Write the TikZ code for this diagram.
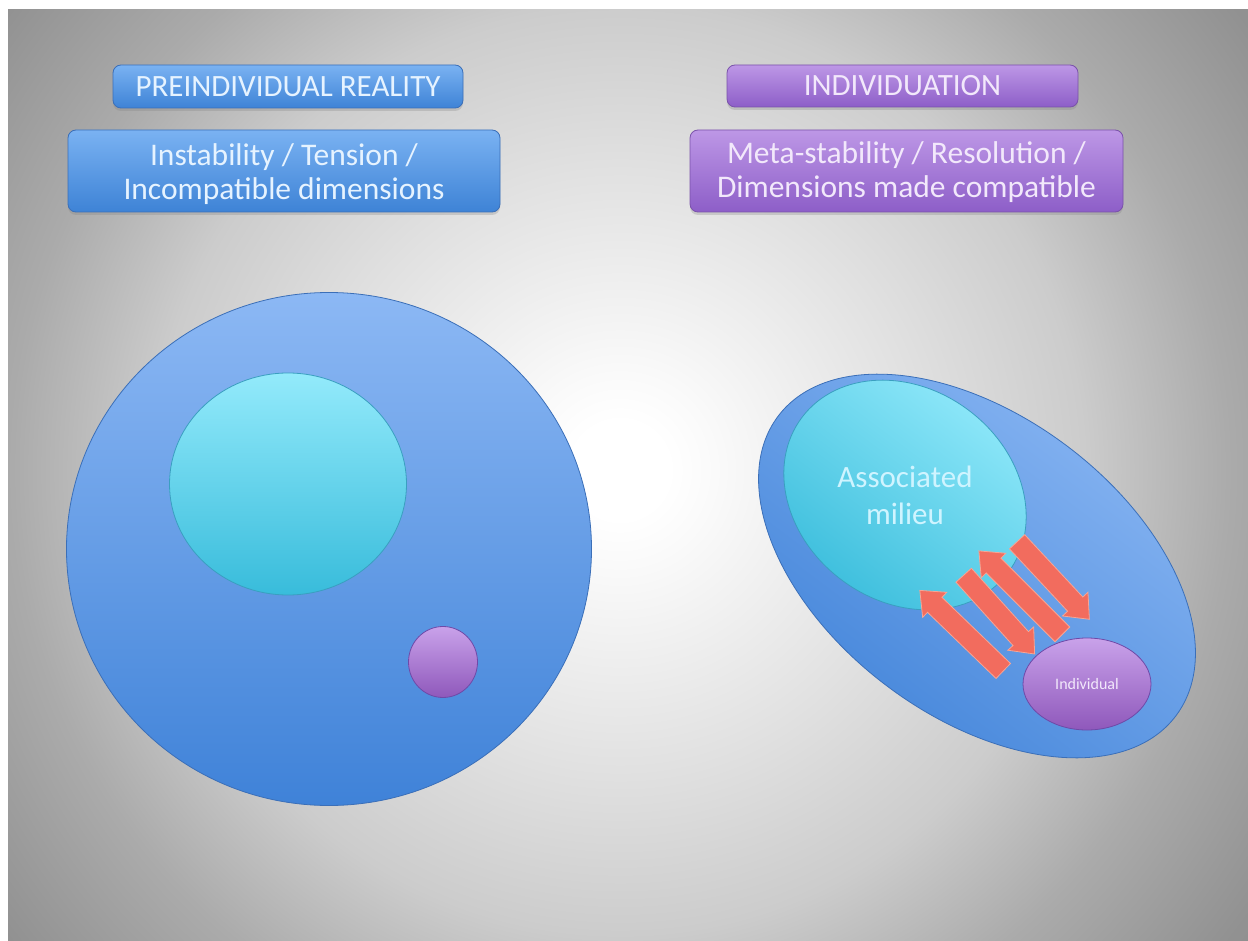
\documentclass[tikz,border=0pt]{standalone}
\usepackage{fontspec}
\setmainfont{Carlito}
\usetikzlibrary{shapes.geometric,shapes.arrows,shadows}
\definecolor{bluetop}{HTML}{7AB2F2}
\definecolor{bluebot}{HTML}{3E83D6}
\definecolor{blueedge}{HTML}{3B6FB8}
\definecolor{purtop}{HTML}{BD97E6}
\definecolor{purbot}{HTML}{8D5EC8}
\definecolor{puredge}{HTML}{7A52AA}
\definecolor{bigtop}{HTML}{8CB8F4}
\definecolor{bigbot}{HTML}{3F82D8}
\definecolor{cyantop}{HTML}{93EAFB}
\definecolor{cyanbot}{HTML}{38BCDB}
\definecolor{cyanedge}{HTML}{3A9FC0}
\definecolor{smtop}{HTML}{C9A2EA}
\definecolor{smbot}{HTML}{8F58BB}
\definecolor{smedge}{HTML}{6E4AA8}
\definecolor{arrowred}{HTML}{F26C5E}
\definecolor{arrowedge}{HTML}{F7A595}
\definecolor{txtblue}{HTML}{E6F3FF}
\definecolor{txtpur}{HTML}{F2E8FB}
% tikz maps the path's bounding box onto the central +-25bp of a shading
\pgfdeclareradialshading{bgshade}{\pgfpoint{0bp}{0bp}}{color(0bp)=(white); color(1.5bp)=(white); color(3bp)=(white!98!black); color(9.5bp)=(white!88!black); color(14.5bp)=(white!80!black); color(19bp)=(white!67!black); color(24bp)=(white!57!black); color(25bp)=(white!56!black); color(50bp)=(white!56!black)}
\tikzset{
  shadowed/.style={drop shadow={opacity=0.28, shadow xshift=0pt, shadow yshift=-3pt}},
  titlebox/.style={rounded corners=8pt, line width=0.8pt, inner sep=0pt, align=center, shadowed},
  bluebox/.style={titlebox, draw=blueedge, top color=bluetop, bottom color=bluebot, text=txtblue},
  purbox/.style={titlebox, draw=puredge, top color=purtop, bottom color=purbot, text=txtpur},
  blob/.style={ellipse, inner sep=0pt, line width=0.8pt},
  bigblob/.style={blob, draw=blueedge, top color=bigtop, bottom color=bigbot},
  cyanblob/.style={blob, draw=cyanedge, top color=cyantop, bottom color=cyanbot},
  purblob/.style={blob, draw=smedge, top color=smtop, bottom color=smbot},
  redarrow/.style={single arrow, fill=arrowred, draw=arrowedge, line width=0.8pt, inner sep=0pt,
    text height=20pt, text depth=0pt, single arrow head extend=7pt,
    single arrow head indent=0pt, single arrow tip angle=80},
  titlefont/.style={font=\fontsize{31}{33}\selectfont},
  subtext/.style={align=center, inner sep=0pt, font=\fontsize{31.5}{34}\selectfont}
}
\begin{document}
\begin{tikzpicture}[x=1pt,y=-1pt]
\useasboundingbox (0,0) rectangle (1248,941);
\fill[white] (0,0) rectangle (1248,941);
\begin{scope}
  \clip (8,10) rectangle (1248,941);
  \fill[shading=bgshade] (-180,-330) rectangle (1420,1270);
\end{scope}

% titles
\node[bluebox, titlefont, minimum width=350pt, minimum height=43pt] (pretitle) at (288,86.5) {PREINDIVIDUAL REALITY};
\node[bluebox, minimum width=432pt, minimum height=82pt] (presub) at (284,171) {};
\node[subtext, text=txtblue] (presubtext) at ([yshift=-3pt]presub.center) {Instability / Tension /\\Incompatible dimensions};
\node[purbox, titlefont, minimum width=351pt, minimum height=42pt] (indtitle) at (902.5,86) {INDIVIDUATION};
\node[purbox, minimum width=433pt, minimum height=82pt] (indsub) at (906.5,171) {};
\node[subtext, text=txtpur] (indsubtext) at ([yshift=-1pt]indsub.center) {Meta-stability / Resolution /\\Dimensions made compatible};

% left: preindividual
\node[bigblob, minimum width=525pt, minimum height=513pt] (pre) at (329,549) {};
\node[cyanblob, minimum width=237pt, minimum height=222pt] (precyan) at (288,484) {};
\node[purblob, minimum width=69pt, minimum height=71pt] (prepur) at (443,662) {};

% right: individuation
\node[bigblob, rotate=-37, shading angle=-37, minimum width=498pt, minimum height=300pt] (ind) at (977,566) {};
\node[cyanblob, rotate=-37, shading angle=-37, minimum width=258pt, minimum height=212pt] (milieu) at (905,495) {};
\node[text=txtblue!90!cyan, align=center, font=\fontsize{31}{37}\selectfont] (milieutext) at (milieu.center) {Associated\\milieu};
\node[purblob, minimum width=128pt, minimum height=92pt, text=txtpur, font=\fontsize{16}{18}\selectfont] (indiv) at (1087,684) {Individual};

% exchange arrows
\node[redarrow, minimum height=116pt, rotate=136] (a1) at (966,635) {};
\node[redarrow, minimum height=106pt, rotate=-48] (a2) at (995,610) {};
\node[redarrow, minimum height=118pt, rotate=135] (a3) at (1025,597) {};
\node[redarrow, minimum height=106pt, rotate=-47] (a4) at (1049,576) {};
\end{tikzpicture}
\end{document}
